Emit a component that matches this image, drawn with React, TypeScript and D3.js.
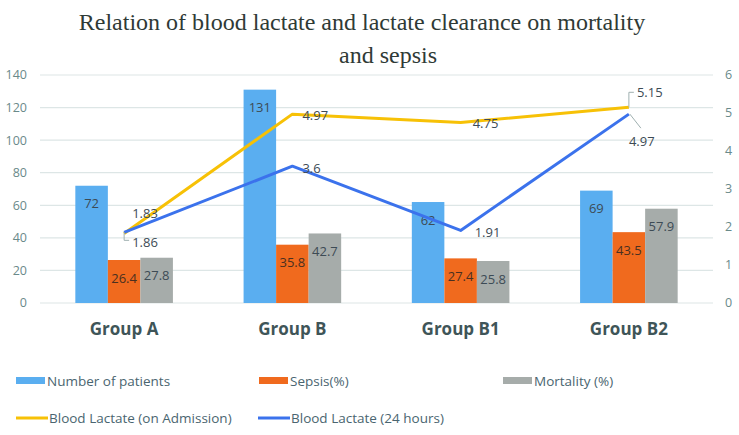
import React from "react";
import * as d3 from "d3";

const categories = ["Group A", "Group B", "Group B1", "Group B2"];
const patients = [72, 131, 62, 69];
const sepsis = [26.4, 35.8, 27.4, 43.5];
const mortality = [27.8, 42.7, 25.8, 57.9];
const lactateAdmission = [1.83, 4.97, 4.75, 5.15];
const lactate24h = [1.86, 3.6, 1.91, 4.97];
const leftTicks = [0, 20, 40, 60, 80, 100, 120, 140];
const rightTicks = [0, 1, 2, 3, 4, 5, 6];

const W = 739;
const H = 435;
const COL = {
  patients: "#5aaef0",
  sepsis: "#f06a1e",
  mortality: "#a6acaa",
  adm: "#f7c106",
  h24: "#3b72ec",
};
const FONT = "'Open Sans', 'DejaVu Sans', sans-serif";

export default function App() {
  const plotL = 40, plotR = 713, plotT = 75, plotB = 303;
  const x0 = d3.scaleBand<string>().domain(categories).range([plotL, plotR]).paddingInner(0.42).paddingOuter(0.21);
  const series = [
    { key: "patients", values: patients, color: COL.patients },
    { key: "sepsis", values: sepsis, color: COL.sepsis },
    { key: "mortality", values: mortality, color: COL.mortality },
  ];
  const x1 = d3.scaleBand<string>().domain(series.map((s) => s.key)).range([0, x0.bandwidth()]);
  const yL = d3.scaleLinear().domain([0, 140]).range([plotB, plotT]);
  const yR = d3.scaleLinear().domain([0, 6]).range([plotB, plotT]);
  const cx = (c: string) => (x0(c) as number) + x0.bandwidth() / 2;
  const line = d3.line<number>().x((_, i) => cx(categories[i])).y((d) => yR(d));

  const labelColor = "#3d4b55";
  const admLabels = [
    { dx: 8, dy: -20, leader: null as null | number[][] },
    { dx: 10, dy: 1, leader: null },
    { dx: 12, dy: 1, leader: null },
    { dx: 8, dy: -15, leader: [[0, 0], [0, -15], [5, -15]] },
  ];
  const h24Labels = [
    { dx: 8, dy: 10, leader: [[0, 0], [0, 8], [5, 8]] },
    { dx: 10, dy: 2, leader: null },
    { dx: 14, dy: 2, leader: null },
    { dx: 0, dy: 27, leader: [[1, 0], [12, 14]] },
  ];

  return (
    <svg width={W} height={H} style={{ position: "absolute", left: 0, top: 0, background: "#fff" }}>
      <rect width={W} height={H} fill="#fff" />
      <text x={362} y={30} textAnchor="middle" fontFamily="'Liberation Serif', 'Times New Roman', serif" fontSize={24} fill="#2f3a36">
        Relation of blood lactate and lactate clearance on mortality
      </text>
      <text x={388} y={63} textAnchor="middle" fontFamily="'Liberation Serif', 'Times New Roman', serif" fontSize={24} fill="#2f3a36">
        and sepsis
      </text>

      {leftTicks.map((t) => (
        <g key={"g" + t}>
          <line x1={plotL} x2={plotR} y1={yL(t)} y2={yL(t)} stroke="#dde6e6" strokeWidth={1.2} />
          <text x={27} y={yL(t)} dy="0.35em" textAnchor="end" fontFamily={FONT} fontSize={12.5} fill="#6a8a8a">
            {t}
          </text>
        </g>
      ))}
      {rightTicks.map((t) => (
        <text key={"r" + t} x={725} y={yR(t)} dy="0.35em" textAnchor="start" fontFamily={FONT} fontSize={12.5} fill="#6a8a8a">
          {t}
        </text>
      ))}

      {categories.map((c, i) => (
        <g key={c} transform={`translate(${x0(c)},0)`}>
          {series.map((s) => (
            <rect key={s.key} x={x1(s.key)} y={yL(s.values[i])} width={x1.bandwidth()} height={plotB - yL(s.values[i])} fill={s.color} />
          ))}
          {series.map((s) => (
            <text key={"l" + s.key} x={(x1(s.key) as number) + x1.bandwidth() / 2} y={yL(s.values[i]) + 18} dy="0.35em" textAnchor="middle" fontFamily={FONT} fontSize={13} fill={s.key === "sepsis" ? "#4a3020" : labelColor}>
              {s.values[i]}
            </text>
          ))}
        </g>
      ))}

      {categories.map((c) => (
        <text key={"c" + c} x={cx(c)} y={335} textAnchor="middle" fontFamily={FONT} fontSize={17} fontWeight="bold" fill="#3f5558">
          {c}
        </text>
      ))}

      <path d={line(lactateAdmission) || ""} fill="none" stroke={COL.adm} strokeWidth={3} strokeLinejoin="round" />
      <path d={line(lactate24h) || ""} fill="none" stroke={COL.h24} strokeWidth={3} strokeLinejoin="round" />

      {lactateAdmission.map((v, i) => {
        const px = cx(categories[i]);
        const py = yR(v);
        const l = admLabels[i];
        return (
          <g key={"a" + i}>
            {l.leader && (
              <polyline points={l.leader.map((p) => `${px + p[0]},${py + p[1]}`).join(" ")} fill="none" stroke="#9fb0b0" strokeWidth={1} />
            )}
            <text x={px + l.dx} y={py + l.dy} dy="0.35em" fontFamily={FONT} fontSize={13} fill={labelColor}>
              {v}
            </text>
          </g>
        );
      })}
      {lactate24h.map((v, i) => {
        const px = cx(categories[i]);
        const py = yR(v);
        const l = h24Labels[i];
        return (
          <g key={"b" + i}>
            {l.leader && (
              <polyline points={l.leader.map((p) => `${px + p[0]},${py + p[1]}`).join(" ")} fill="none" stroke="#9fb0b0" strokeWidth={1} />
            )}
            <text x={px + l.dx} y={py + l.dy} dy="0.35em" fontFamily={FONT} fontSize={13} fill={labelColor}>
              {v}
            </text>
          </g>
        );
      })}

      {[
        { label: "Number of patients", color: COL.patients, x: 16, y: 381, type: "rect" },
        { label: "Sepsis(%)", color: COL.sepsis, x: 259, y: 381, type: "rect" },
        { label: "Mortality (%)", color: COL.mortality, x: 503, y: 381, type: "rect" },
        { label: "Blood Lactate (on Admission)", color: COL.adm, x: 16, y: 418, type: "line" },
        { label: "Blood Lactate (24 hours)", color: COL.h24, x: 258, y: 418, type: "line" },
      ].map((e) => (
        <g key={e.label}>
          {e.type === "rect" ? (
            <rect x={e.x} y={e.y - 4} width={29} height={7} fill={e.color} />
          ) : (
            <line x1={e.x} x2={e.x + 32} y1={e.y} y2={e.y} stroke={e.color} strokeWidth={3} />
          )}
          <text x={e.x + (e.type === "rect" ? 31 : 33)} y={e.y} dy="0.35em" fontFamily={FONT} fontSize={13.5} fill="#4a6570">
            {e.label}
          </text>
        </g>
      ))}
    </svg>
  );
}
